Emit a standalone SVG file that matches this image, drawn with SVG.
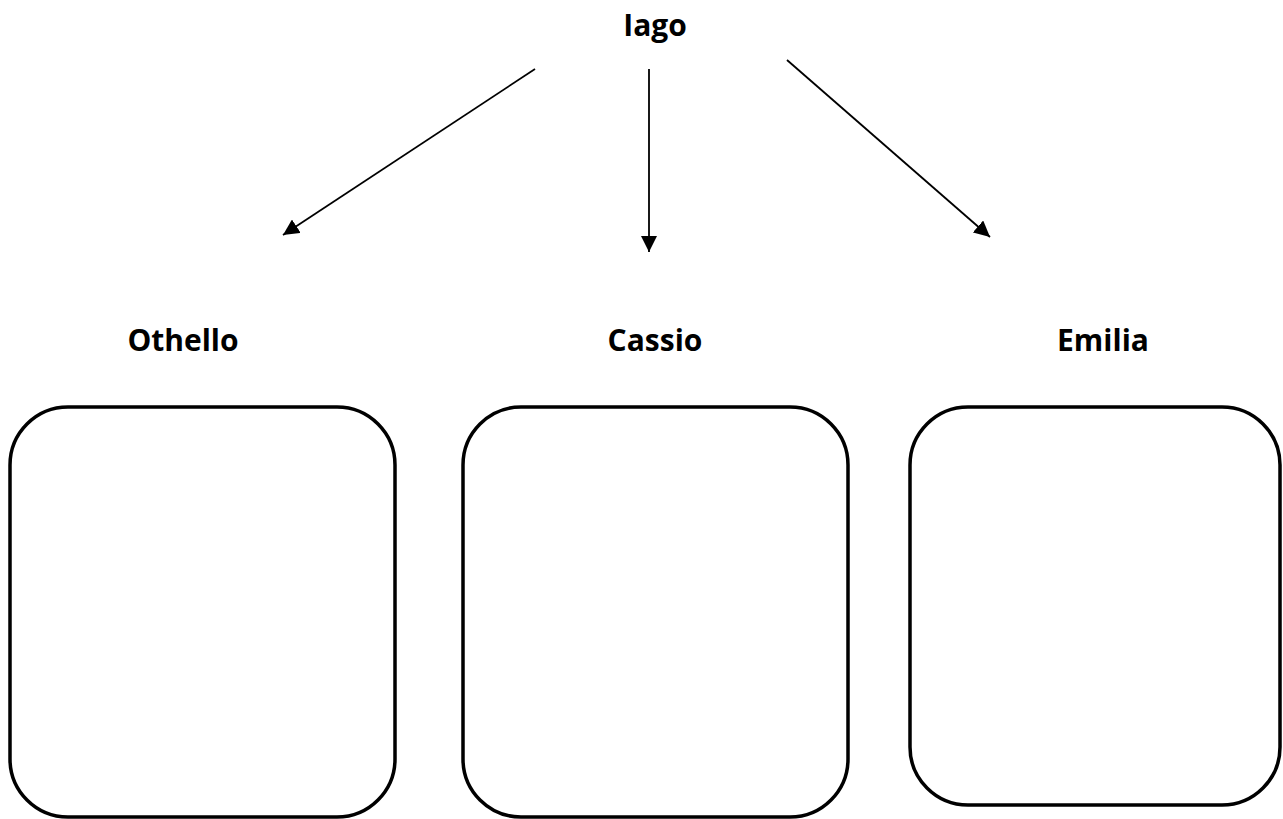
<svg xmlns="http://www.w3.org/2000/svg" width="1283" height="819" viewBox="0 0 1283 819">
<defs>
<style>
.lbl{font-family:"Open Sans","Liberation Sans",sans-serif;font-weight:bold;font-size:30px;fill:#000;text-anchor:middle}
.box{fill:#fff;stroke:#000;stroke-width:3.5}
.conn{stroke:#000;stroke-width:1.8;fill:none}
</style>
<marker id="ah" viewBox="0 0 10 10" refX="10" refY="5" markerWidth="16" markerHeight="16" markerUnits="userSpaceOnUse" orient="auto">
<path d="M0,0 L10,5 L0,10 z" fill="#000"/>
</marker>
</defs>
<rect width="1283" height="819" fill="#fff"/>
<g id="iago"><text class="lbl" x="655" y="36">Iago</text></g>
<g id="othello"><text class="lbl" x="183" y="351">Othello</text><rect class="box" x="10" y="407" width="385" height="410" rx="58" ry="58"/></g>
<g id="cassio"><text class="lbl" x="655" y="351">Cassio</text><rect class="box" x="463" y="407" width="385" height="410" rx="58" ry="58"/></g>
<g id="emilia"><text class="lbl" x="1103" y="351">Emilia</text><rect class="box" x="910" y="407" width="370" height="398" rx="58" ry="58"/></g>
<g id="connectors">
<line class="conn" x1="535" y1="69" x2="283" y2="235" marker-end="url(#ah)"/>
<line class="conn" x1="649" y1="69" x2="649" y2="252" marker-end="url(#ah)"/>
<line class="conn" x1="787" y1="60" x2="990" y2="237" marker-end="url(#ah)"/>
</g>
</svg>
